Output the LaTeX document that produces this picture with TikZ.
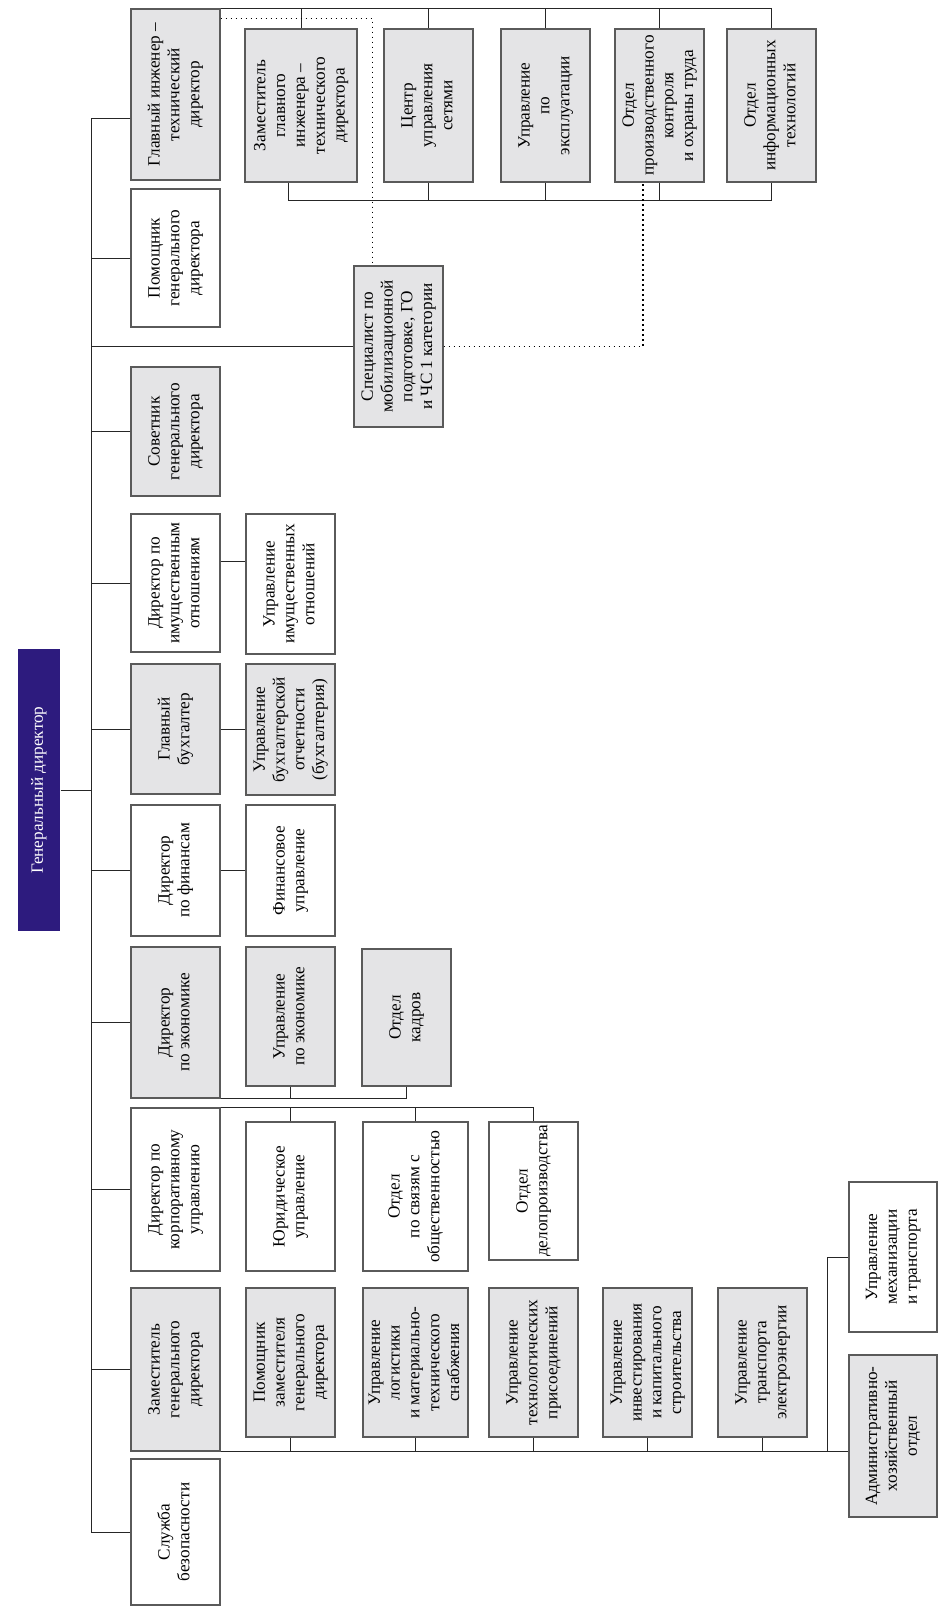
\documentclass[tikz,border=0pt]{standalone}
\usepackage{fontspec}
\setmainfont{Liberation Serif}
\usepackage{graphicx}
\definecolor{boxfill}{HTML}{E4E4E6}
\definecolor{boxline}{HTML}{5A5A5A}
\definecolor{chief}{HTML}{2D1B7E}
\newcommand{\vtext}[1]{\rotatebox{90}{\begin{tabular}{@{}c@{}}#1\end{tabular}}}

\begin{document}
\begin{tikzpicture}[
    x=0.5pt, y=-0.5pt,
    unit/.style={
        draw=boxline,
        line width=0.6pt,
        fill=white,
        inner sep=0pt,
        font=\fontsize{8.6}{9.9}\selectfont
    },
    shaded/.style={unit, fill=boxfill},
    size/.style 2 args={minimum width=#1*0.5pt, minimum height=#2*0.5pt},
    link/.style={draw=black!85, line width=0.5pt},
    dots/.style={black, line width=0.9pt, dash pattern=on 0.9pt off 1.6pt}
  ]
\useasboundingbox (0,0) rectangle (938,1606);

\node[unit, size={42}{282}, fill=chief, draw=none, text=white] (gd) at (39, 790)
    {\vtext{Генеральный директор}};

% first level
\node[shaded, size={89}{171}] (gi) at (175.5, 94.5)
    {\vtext{Главный инженер –\\технический\\директор}};
\node[unit, size={89}{138}] (pom) at (175.5, 258)
    {\vtext{Помощник\\генерального\\директора}};
\node[shaded, size={89}{129}] (sov) at (175.5, 431.5)
    {\vtext{Советник\\генерального\\директора}};
\node[unit, size={89}{138}] (dim) at (175.5, 583)
    {\vtext{Директор по\\имущественным\\отношениям}};
\node[shaded, size={89}{130}] (gb) at (175.5, 729)
    {\vtext{Главный\\бухгалтер}};
\node[unit, size={89}{131}] (dfin) at (175.5, 870.5)
    {\vtext{Директор\\по финансам}};
\node[shaded, size={89}{151}] (dek) at (175.5, 1022.5)
    {\vtext{Директор\\по экономике}};
\node[unit, size={89}{163}] (dku) at (175.5, 1189.5)
    {\vtext{Директор по\\корпоративному\\управлению}};
\node[shaded, size={89}{163}] (zgd) at (175.5, 1369.5)
    {\vtext{Заместитель\\генерального\\директора}};
\node[unit, size={89}{146}] (sb) at (175.5, 1532)
    {\vtext{Служба\\безопасности}};

% under the chief engineer
\node[shaded, size={112}{153}] (zgi) at (301, 105.5)
    {\vtext{Заместитель\\главного\\инженера –\\технического\\директора}};
\node[shaded, size={89}{153}] (csu) at (428.5, 105.5)
    {\vtext{Центр\\управления\\сетями}};
\node[shaded, size={89}{153}] (upe) at (545.5, 105.5)
    {\vtext{Управление\\по\\эксплуатации}};
\node[shaded, size={89}{153}] (opk) at (659.5, 105.5)
    {\vtext{Отдел\\производственного\\контроля\\и охраны труда}};
\node[shaded, size={89}{153}] (oit) at (771.5, 105.5)
    {\vtext{Отдел\\информационных\\технологий}};
\node[shaded, size={89}{161}] (spec) at (398.5, 346.5)
    {\vtext{Специалист по\\мобилизационной\\подготовке, ГО\\и ЧС 1 категории}};

% second level
\node[unit, size={89}{140}] (uio) at (290.5, 584)
    {\vtext{Управление\\имущественных\\отношений}};
\node[shaded, size={89}{131}] (ubo) at (290.5, 729.5)
    {\vtext{Управление\\бухгалтерской\\отчетности\\(бухгалтерия)}};
\node[unit, size={89}{131}] (fu) at (290.5, 870.5)
    {\vtext{Финансовое\\управление}};
\node[shaded, size={89}{139}] (ue) at (290.5, 1016.5)
    {\vtext{Управление\\по экономике}};
\node[shaded, size={89}{137}] (okd) at (406.5, 1017.5)
    {\vtext{Отдел\\кадров}};
\node[unit, size={89}{149}] (yu) at (290.5, 1196.5)
    {\vtext{Юридическое\\управление}};
\node[unit, size={105}{149}] (osv) at (415.5, 1196.5)
    {\vtext{Отдел\\по связям с\\общественностью}};
\node[unit, size={89}{138}] (odp) at (533.5, 1191)
    {\vtext{Отдел\\делопроизводства}};
\node[shaded, size={89}{149}] (pzg) at (290.5, 1362.5)
    {\vtext{Помощник\\заместителя\\генерального\\директора}};
\node[shaded, size={105}{149}] (ulm) at (415.5, 1362.5)
    {\vtext{Управление\\логистики\\и материально-\\технического\\снабжения}};
\node[shaded, size={89}{149}] (utp) at (533.5, 1362.5)
    {\vtext{Управление\\технологических\\присоединений}};
\node[shaded, size={89}{149}] (uik) at (647.5, 1362.5)
    {\vtext{Управление\\инвестирования\\и капитального\\строительства}};
\node[shaded, size={89}{149}] (ute) at (762.5, 1362.5)
    {\vtext{Управление\\транспорта\\электроэнергии}};
\node[unit, size={88}{150}] (umt) at (893, 1257)
    {\vtext{Управление\\механизации\\и транспорта}};
\node[shaded, size={88}{162}] (aho) at (893, 1436)
    {\vtext{Административно-\\хозяйственный\\отдел}};

% main bus
\coordinate (bus) at (91, 0);
\draw[link] (gd.east) -- (gd.east -| bus);
\draw[link] ([yshift=-11.75pt]gi.west) -| (sb.west -| bus) -- (sb.west);
\foreach \n in {pom, spec, sov, dim, gb, dfin, dek, dku, zgd}
    \draw[link] (\n.west) -- (\n.west -| bus);

% chief engineer group
\coordinate (gisub) at (0, 200);
\draw[link] (gi.north east) -- (gi.north east -| oit) -- (oit.north);
\foreach \n in {zgi, csu, upe, opk}
    \draw[link] (\n.north) -- (\n.north |- gi.north);
\draw[link] ([xshift=-6.5pt]zgi.south) |- (gisub -| oit) -- (oit.south);
\foreach \n in {csu, upe, opk}
    \draw[link] (\n.south) -- (\n.south |- gisub);
\draw[dots] ([yshift=-5pt]gi.north east) -| ([xshift=9.5pt]spec.north west);
\draw[dots] (spec.east) -| ([xshift=-8.25pt]opk.south);

% single subordinates
\draw[link] ([yshift=11pt]dim.east) -- ([yshift=11pt]dim.east -| uio.west);
\draw[link] (gb.east) -- (gb.east -| ubo.west);
\draw[link] (dfin.east) -- (fu.west);

% economics
\draw[link] (dek.south east) -| (okd.south);
\draw[link] (ue.south) -- (ue.south |- dek.south);

% corporate
\draw[link] (dku.north east) -| (odp.north);
\foreach \n in {yu, osv}
    \draw[link] (\n.north) -- (\n.north |- dku.north);

% deputy
\coordinate (fork) at (827, 0);
\draw[link] (zgd.south east) -- (zgd.south east -| aho.west);
\foreach \n in {pzg, ulm, utp, uik, ute}
    \draw[link] (\n.south) -- (\n.south |- zgd.south);
\draw[link] (zgd.south -| fork) |- (umt.west);

\end{tikzpicture}
\end{document}
